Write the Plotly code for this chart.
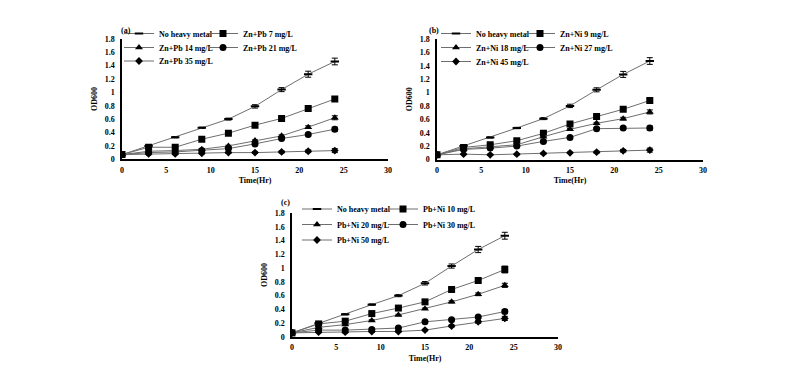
import plotly.graph_objects as go

W, H = 800, 371
OFF = 8  # the page body adds an 8 px margin around the figure

time_hr = [0, 3, 6, 9, 12, 15, 18, 21, 24]
x_ticks = [0, 5, 10, 15, 20, 25, 30]

# Panel (a): Zn+Pb
a_control = [0.07, 0.20, 0.33, 0.47, 0.60, 0.79, 1.04, 1.27, 1.46]
a_zn_pb_7 = [0.07, 0.18, 0.18, 0.30, 0.39, 0.51, 0.61, 0.76, 0.90]
a_zn_pb_14 = [0.07, 0.12, 0.13, 0.15, 0.20, 0.28, 0.35, 0.48, 0.62]
a_zn_pb_21 = [0.07, 0.10, 0.11, 0.13, 0.16, 0.23, 0.31, 0.37, 0.45]
a_zn_pb_35 = [0.07, 0.08, 0.08, 0.09, 0.10, 0.10, 0.11, 0.12, 0.13]

# Panel (b): Zn+Ni
b_control = [0.07, 0.20, 0.33, 0.47, 0.61, 0.80, 1.04, 1.27, 1.47]
b_zn_ni_9 = [0.07, 0.18, 0.22, 0.28, 0.39, 0.53, 0.64, 0.75, 0.88]
b_zn_ni_18 = [0.07, 0.16, 0.19, 0.22, 0.34, 0.45, 0.54, 0.61, 0.71]
b_zn_ni_27 = [0.07, 0.15, 0.17, 0.20, 0.27, 0.33, 0.46, 0.47, 0.47]
b_zn_ni_45 = [0.07, 0.08, 0.07, 0.08, 0.09, 0.10, 0.11, 0.13, 0.14]

# Panel (c): Pb+Ni
c_control = [0.06, 0.20, 0.33, 0.47, 0.60, 0.78, 1.03, 1.27, 1.47]
c_pb_ni_10 = [0.06, 0.19, 0.23, 0.34, 0.42, 0.51, 0.69, 0.82, 0.98]
c_pb_ni_20 = [0.06, 0.14, 0.18, 0.24, 0.32, 0.41, 0.51, 0.62, 0.75]
c_pb_ni_30 = [0.06, 0.10, 0.10, 0.11, 0.13, 0.22, 0.25, 0.29, 0.37]
c_pb_ni_50 = [0.06, 0.07, 0.07, 0.08, 0.08, 0.10, 0.16, 0.22, 0.27]

# error bars (standard deviation)
control_err = [0.005, 0.01, 0.01, 0.01, 0.015, 0.025, 0.03, 0.045, 0.05]
small_err = [0.005, 0.005, 0.01, 0.01, 0.01, 0.01, 0.015, 0.02, 0.03]
c_pb_ni_10_err = [0.005, 0.01, 0.01, 0.01, 0.01, 0.015, 0.02, 0.03, 0.05]

names_a = ["No heavy metal", "Zn+Pb 7 mg/L", "Zn+Pb 14 mg/L", "Zn+Pb 21 mg/L", "Zn+Pb 35 mg/L"]
names_b = ["No heavy metal", "Zn+Ni 9 mg/L", "Zn+Ni 18 mg/L", "Zn+Ni 27 mg/L", "Zn+Ni 45 mg/L"]
names_c = ["No heavy metal", "Pb+Ni 10 mg/L", "Pb+Ni 20 mg/L", "Pb+Ni 30 mg/L", "Pb+Ni 50 mg/L"]
panel_labels = ["(a)", "(b)", "(c)"]

FONT = "Liberation Serif"
BOLD8 = dict(family=FONT, size=8, color="black", weight="bold")
symbols = ["line-ew", "square", "triangle-up", "circle", "diamond"]
sizes = [6, 7, 7, 7, 6]


def px_x(p):
    return (p - OFF) / W


def px_y(p):
    return 1 - (p - OFF) / H


fig = go.Figure()

panels = [
    ("x", "y", names_a, [a_control, a_zn_pb_7, a_zn_pb_14, a_zn_pb_21, a_zn_pb_35],
     [control_err, small_err, small_err, small_err, small_err]),
    ("x2", "y2", names_b, [b_control, b_zn_ni_9, b_zn_ni_18, b_zn_ni_27, b_zn_ni_45],
     [control_err, small_err, small_err, small_err, small_err]),
    ("x3", "y3", names_c, [c_control, c_pb_ni_10, c_pb_ni_20, c_pb_ni_30, c_pb_ni_50],
     [control_err, c_pb_ni_10_err, small_err, small_err, small_err]),
]

# legend item positions in page px: (line start x, row centre y)
legend_pos = [
    [(135, 33.5), (219, 33.5), (135, 47.5), (219, 47.5), (135, 61)],
    [(452, 33.5), (536, 33.5), (452, 47.5), (536, 47.5), (452, 61.5)],
    [(313, 209), (399, 209), (313, 224.5), (399, 224.5), (313, 240)],
]
LEG_OFF = 16  # px between legend box left and start of the symbol line

layout_legends = {}
k = 0
for p, (xa, ya, names, series, errs) in enumerate(panels):
    for i, (nm, vals, er) in enumerate(zip(names, series, errs)):
        k += 1
        lname = "legend" if k == 1 else f"legend{k}"
        mk = dict(symbol=symbols[i], size=sizes[i], color="black",
                  line=dict(color="black", width=2 if i == 0 else 0))
        fig.add_trace(go.Scatter(
            x=time_hr, y=vals, name=nm, mode="lines+markers",
            xaxis=xa, yaxis=ya, legend=lname,
            line=dict(color="#6e6e6e", width=1),
            marker=mk,
            error_y=dict(type="data", array=er, visible=True, color="black",
                         thickness=1, width=3),
        ))
        lx, ly = legend_pos[p][i]
        layout_legends[lname] = dict(
            x=px_x(lx - LEG_OFF), y=px_y(ly), xanchor="left", yanchor="middle",
            bgcolor="rgba(0,0,0,0)", borderwidth=0, itemwidth=30,
            font=BOLD8, orientation="h", tracegroupgap=0,
        )


def xaxis(left, right, anchor):
    return dict(domain=[px_x(left), px_x(right)], anchor=anchor, range=[0, 30], tickvals=x_ticks,
                showgrid=False, zeroline=False, showline=True, linecolor="black",
                linewidth=1.5, ticks="", ticklabelstandoff=2, automargin=False,
                tickfont=BOLD8,
                title=dict(text="Time(Hr)", standoff=4, font=BOLD8))


def yaxis(top, bottom, anchor):
    return dict(domain=[px_y(bottom), px_y(top)], anchor=anchor, range=[0, 1.8], dtick=0.2, tick0=0,
                showgrid=False, zeroline=False, showline=True, linecolor="black",
                linewidth=1.5, ticks="", ticklabelstandoff=4, automargin=False,
                tickfont=BOLD8,
                title=dict(text="OD600", standoff=6, font=BOLD8))


fig.update_layout(
    width=W, height=H,
    margin=dict(l=0, r=0, t=0, b=0, autoexpand=False),
    paper_bgcolor="white", plot_bgcolor="white",
    font=dict(family=FONT, size=8, color="black"),
    xaxis=xaxis(122, 388, "y"),
    yaxis=yaxis(38.7, 159.3, "x"),
    xaxis2=xaxis(437, 703, "y2"),
    yaxis2=yaxis(38.9, 159.5, "x2"),
    xaxis3=xaxis(292, 558, "y3"),
    yaxis3=yaxis(213, 337, "x3"),
    showlegend=True,
    **layout_legends,
)

for lbl, (lx, ly) in zip(panel_labels, [(119, 24), (434, 24), (285, 203)]):
    fig.add_annotation(text=lbl, x=px_x(lx), y=px_y(ly), xref="paper", yref="paper",
                       showarrow=False, font=BOLD8)

fig.write_html("out.html")
